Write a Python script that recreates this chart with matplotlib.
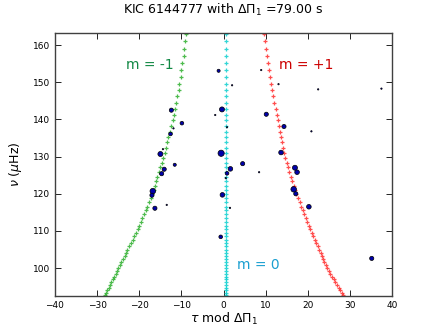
import numpy as np
import matplotlib
matplotlib.use('Agg')
import matplotlib.pyplot as plt

# Frequences du reseau theorique (muHz)
nu_grid = [163.13, 161.06, 159.03, 157.06, 155.13, 153.26, 151.42, 149.63, 147.89, 146.18,
           144.51, 142.88, 141.28, 139.72, 138.20, 136.71, 135.24, 133.82, 132.42, 131.04,
           129.70, 128.39, 127.10, 125.83, 124.60, 123.38, 122.19, 121.02, 119.88, 118.75,
           117.65, 116.56, 115.50, 114.46, 113.43, 112.42, 111.43, 110.46, 109.50, 108.57,
           107.64, 106.73, 105.84, 104.96, 104.10, 103.25, 102.42, 101.60, 100.79, 99.99,
           99.21, 98.44, 97.68, 96.93, 96.19, 95.47, 94.75, 94.05, 93.35, 92.67]

# tau mod DeltaPi pour m = -1, 0, +1
tau_m1 = [-8.9, -9.1, -9.3, -9.5, -9.8, -10.0, -10.2, -10.5, -10.7, -11.0,
          -11.2, -11.5, -11.8, -12.1, -12.4, -12.7, -13.1, -13.4, -13.7, -14.0,
          -14.4, -14.7, -15.0, -15.4, -15.7, -16.0, -16.3, -16.6, -16.9, -17.3,
          -17.7, -18.1, -18.5, -18.9, -19.3, -19.6, -20.0, -20.4, -20.8, -21.2,
          -21.6, -22.0, -22.4, -22.8, -23.2, -23.5, -23.9, -24.3, -24.6, -25.0,
          -25.3, -25.6, -26.0, -26.3, -26.6, -27.0, -27.3, -27.6, -27.9, -28.2]
tau_p1 = [9.5, 9.7, 10.0, 10.2, 10.5, 10.7, 10.9, 11.2, 11.5, 11.7,
          12.0, 12.3, 12.6, 12.8, 13.1, 13.3, 13.6, 13.8, 14.0, 14.3,
          14.6, 14.9, 15.3, 15.6, 15.9, 16.3, 16.6, 16.9, 17.2, 17.6,
          18.0, 18.4, 18.8, 19.1, 19.5, 19.8, 20.2, 20.5, 20.9, 21.2,
          21.6, 21.9, 22.3, 22.6, 23.0, 23.3, 23.6, 23.9, 24.2, 24.5,
          24.9, 25.3, 25.7, 26.1, 26.5, 26.9, 27.3, 27.6, 28.0, 28.3]
tau_0 = [0.5, 0.5, 0.5, 0.5, 0.5, 0.5, 0.5, 0.5, 0.5, 0.5,
         0.5, 0.5, 0.5, 0.5, 0.5, 0.5, 0.5, 0.5, 0.5, 0.5,
         0.5, 0.5, 0.5, 0.5, 0.5, 0.5, 0.5, 0.5, 0.5, 0.5,
         0.5, 0.5, 0.5, 0.5, 0.5, 0.5, 0.5, 0.5, 0.5, 0.5,
         0.5, 0.5, 0.5, 0.5, 0.5, 0.5, 0.5, 0.5, 0.5, 0.5,
         0.5, 0.5, 0.5, 0.5, 0.5, 0.5, 0.5, 0.5, 0.5, 0.5]

# Modes observes (tau, nu, taille ~ amplitude)
obs_tau = [-1.2, 8.9, 2.0, 13.0, 22.4, 37.4, -12.4, -0.4, -2.0, 10.1,
           -9.9, -11.9, 0.8, 14.3, 20.8, -12.6, -14.4, -15.0, -0.6, 13.6,
           -11.6, 4.5, 16.9, -14.1, 1.6, 17.4, -14.7, 8.4, 0.8, 0.5,
           -16.8, -17.0, 16.6, 17.1, -0.3, -16.3, -13.5, 1.5, 20.2, -0.7, 35.1]
obs_nu = [153.1, 153.3, 149.2, 149.5, 148.1, 148.3, 142.5, 142.7, 141.2, 141.4,
          139.0, 137.6, 137.9, 138.1, 136.8, 136.1, 132.0, 130.7, 130.9, 131.1,
          127.8, 128.1, 127.0, 126.6, 126.7, 125.8, 125.4, 125.8, 125.5, 124.2,
          120.7, 119.6, 121.2, 120.0, 119.7, 116.1, 117.0, 116.2, 116.5, 108.4, 102.6]
obs_size = [5, 1, 1, 1, 1, 1, 9, 13, 1, 9,
            7, 1, 1, 9, 1, 7, 1, 13, 20, 11,
            5, 9, 13, 9, 11, 11, 9, 1, 7, 1,
            16, 9, 16, 9, 11, 9, 1, 1, 11, 7, 9]

fig = plt.figure(figsize=(4.36, 3.29), dpi=100)
ax = fig.add_axes([0.126, 0.1, 0.774, 0.8])

ax.plot(tau_m1, nu_grid, '+', color='#22aa22', ms=3, mew=0.9, alpha=0.8)
ax.plot(tau_0, nu_grid, '+', color='#00cccc', ms=3, mew=0.9, alpha=0.8)
ax.plot(tau_p1, nu_grid, '+', color='#ff2222', ms=3, mew=0.9, alpha=0.8)
ax.scatter(obs_tau, obs_nu, s=obs_size, c='#0000aa', edgecolors='k', linewidths=0.5, zorder=3)

ax.text(-23.1, 154.6, 'm = -1', color='#118844', fontsize=10, va='center', ha='left')
ax.text(13.0, 154.6, 'm = +1', color='#cc0000', fontsize=10, va='center', ha='left')
ax.text(3.2, 100.8, 'm = 0', color='#1a9fd0', fontsize=10, va='center', ha='left')

ax.set_xlim(-40, 40)
ax.set_ylim(92.45, 163.3)
ax.set_xticks(np.arange(-40, 41, 10))
ax.set_yticks(np.arange(100, 161, 10))
ax.tick_params(direction='in', top=True, right=True, labelsize=6.5, length=4, width=0.6)
for sp in ax.spines.values():
    sp.set_linewidth(1.0)
    sp.set_color('0.25')

ax.set_title(r'KIC 6144777 with $\Delta\Pi_1$ =79.00 s', fontsize=9, pad=14)
ax.set_xlabel(r'$\tau$ mod $\Delta\Pi_1$', fontsize=9, labelpad=1)
ax.set_ylabel(r'$\nu$ ($\mu$Hz)', fontsize=9, labelpad=6)

fig.savefig('out.png', dpi=100)
